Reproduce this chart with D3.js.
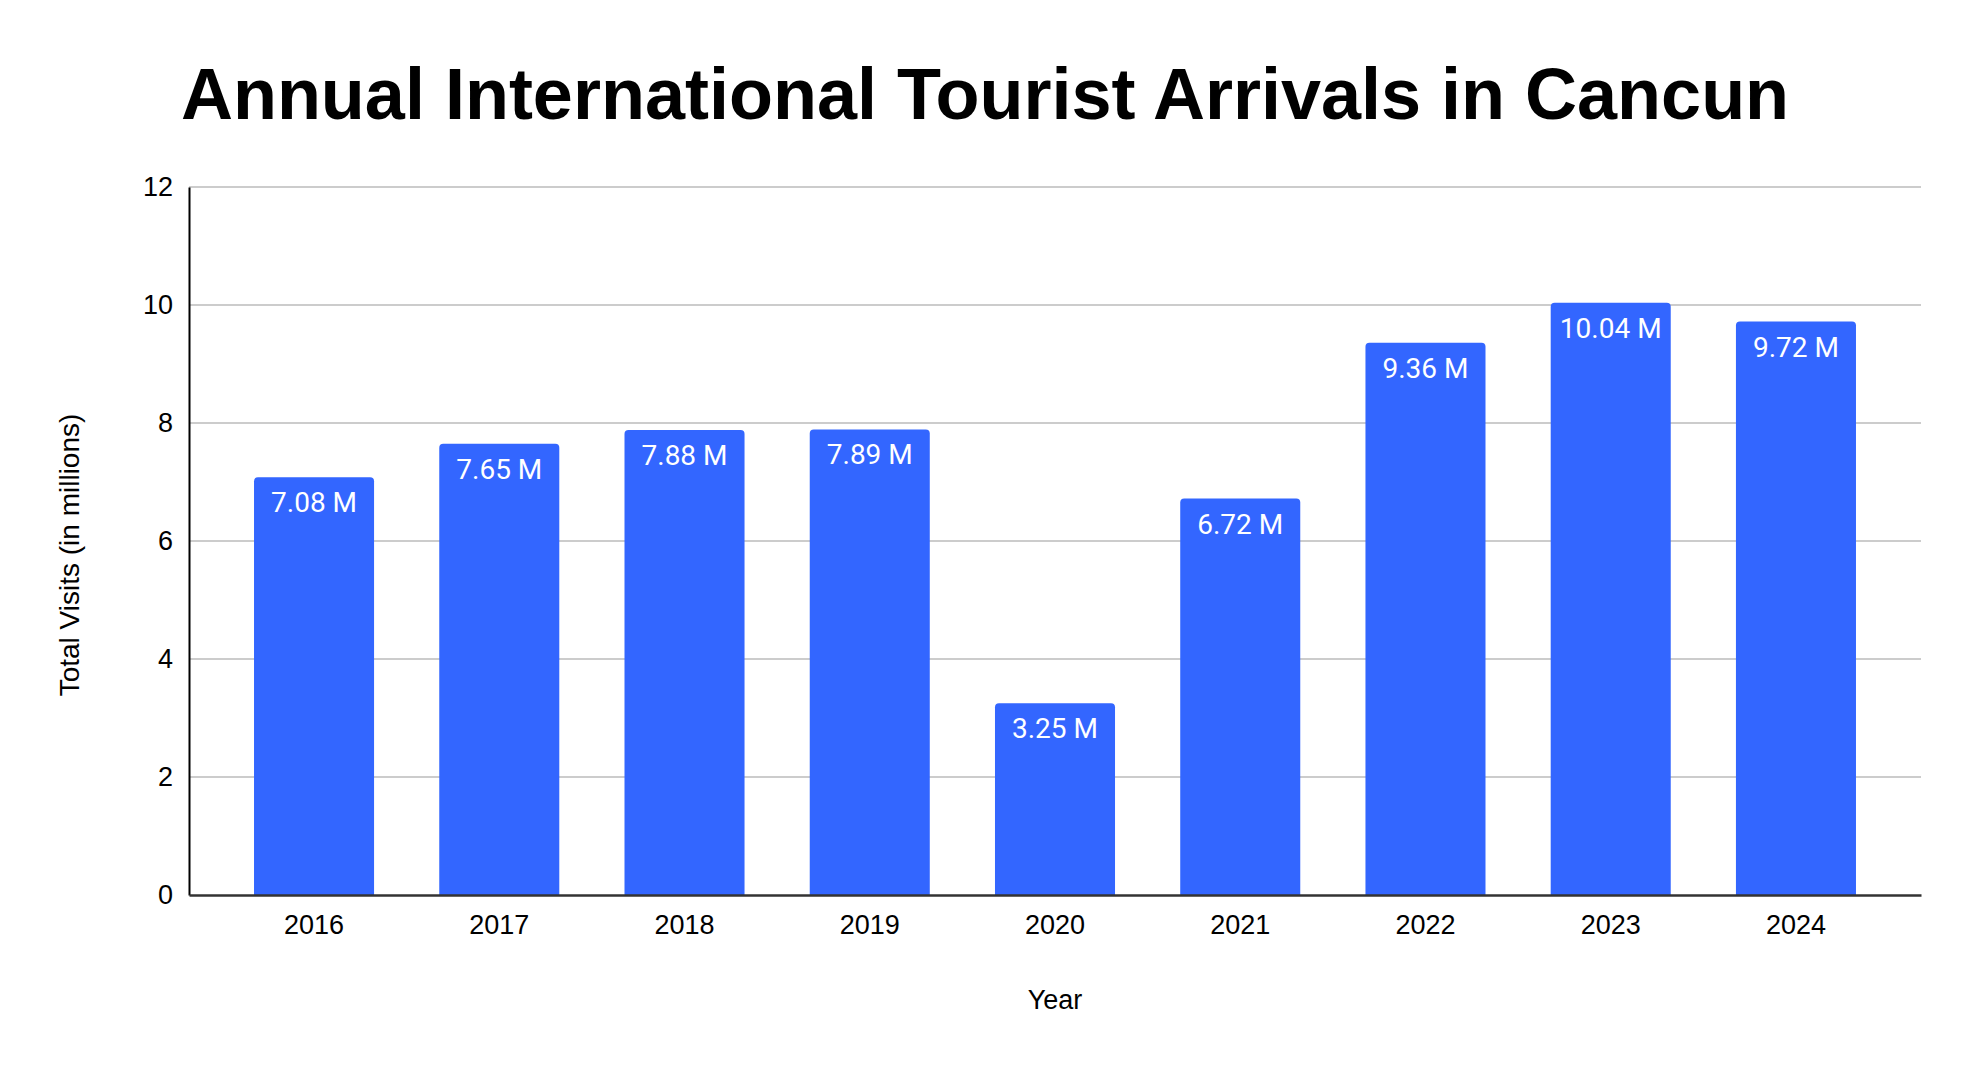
<!DOCTYPE html>
<html>
<head>
<meta charset="utf-8">
<script src="https://cdn.jsdelivr.net/npm/d3@7"></script>
<style>
  body { margin: 0; background: #fff; }
  svg { display: block; }
</style>
</head>
<body>
<div id="chart"></div>
<script>
const years = ['2016', '2017', '2018', '2019', '2020', '2021', '2022', '2023', '2024'];
const visits = [7.08, 7.65, 7.88, 7.89, 3.25, 6.72, 9.36, 10.04, 9.72];
const yTicks = [0, 2, 4, 6, 8, 10, 12];

const width = 1974,
  height = 1068;
const margin = { top: 187, right: 53, bottom: 173, left: 189 };
const axisFont = '"Liberation Sans", Arial, sans-serif';

const svg = d3.select('#chart').append('svg')
  .attr('width', width)
  .attr('height', height);

const x = d3.scaleBand()
  .domain(years)
  .range([margin.left, width - margin.right])
  .paddingInner(0.352)
  .paddingOuter(0.351);

const y = d3.scaleLinear()
  .domain([0, 12])
  .range([height - margin.bottom, margin.top]);

// title
svg.append('text')
  .attr('x', 985)
  .attr('y', 119)
  .attr('text-anchor', 'middle')
  .style('font-family', axisFont)
  .style('font-weight', 'bold')
  .style('font-size', '72px')
  .text('Annual International Tourist Arrivals in Cancun');

// gridlines
svg.append('g')
  .selectAll('line')
  .data(yTicks.filter(d => d > 0))
  .join('line')
  .attr('x1', margin.left)
  .attr('x2', width - margin.right)
  .attr('y1', d => y(d))
  .attr('y2', d => y(d))
  .attr('stroke', '#cccccc')
  .attr('stroke-width', 2);

// y axis
const yAxis = svg.append('g')
  .attr('transform', `translate(${margin.left},0)`)
  .call(d3.axisLeft(y).tickValues(yTicks).tickSize(0).tickPadding(16));
yAxis.select('.domain').attr('stroke', '#000').attr('stroke-width', 2);
yAxis.selectAll('text')
  .style('font-family', axisFont)
  .style('font-size', '27px')
  .attr('fill', '#000');

// bars with rounded tops
const r = 4;
function barPath(d, i) {
  const x0 = x(years[i]),
    w = x.bandwidth(),
    y0 = y(d),
    yb = y(0);
  return `M${x0},${yb}V${y0 + r}Q${x0},${y0} ${x0 + r},${y0}H${x0 + w - r}Q${x0 + w},${y0} ${x0 + w},${y0 + r}V${yb}Z`;
}

svg.append('g')
  .selectAll('path')
  .data(visits)
  .join('path')
  .attr('d', barPath)
  .attr('fill', '#3366ff');

// value labels
svg.append('g')
  .selectAll('text')
  .data(visits)
  .join('text')
  .attr('x', (d, i) => x(years[i]) + x.bandwidth() / 2)
  .attr('y', d => y(d) + 35)
  .attr('text-anchor', 'middle')
  .attr('fill', '#fff')
  .style('font-family', 'Roboto, sans-serif')
  .style('font-size', '28px')
  .text(d => d.toFixed(2) + ' M');

// x axis
const xAxis = svg.append('g')
  .attr('transform', `translate(0,${y(0)})`)
  .call(d3.axisBottom(x).tickSize(0).tickPadding(20));
xAxis.select('.domain').attr('stroke', '#333').attr('stroke-width', 2.5);
xAxis.selectAll('text')
  .style('font-family', axisFont)
  .style('font-size', '27px')
  .attr('fill', '#000');

// axis titles
svg.append('text')
  .attr('x', (margin.left + width - margin.right) / 2)
  .attr('y', 1009)
  .attr('text-anchor', 'middle')
  .style('font-family', axisFont)
  .style('font-size', '27px')
  .text('Year');

svg.append('text')
  .attr('transform', 'translate(79,555) rotate(-90)')
  .attr('text-anchor', 'middle')
  .style('font-family', axisFont)
  .style('font-size', '28px')
  .text('Total Visits (in millions)');
</script>
</body>
</html>
